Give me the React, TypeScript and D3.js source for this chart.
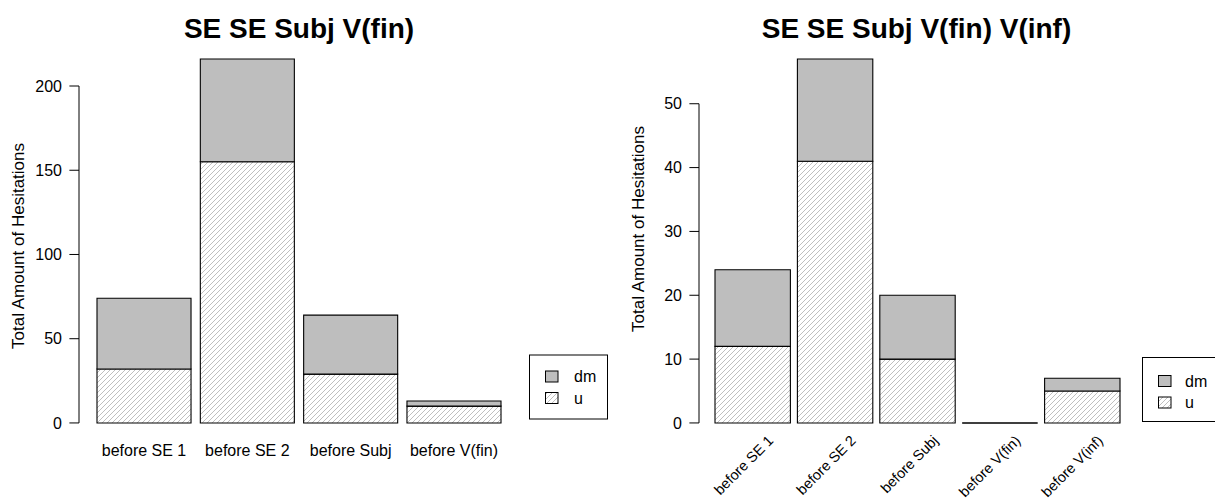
import React from "react";
import * as d3 from "d3";

// ---- data ----
const leftTitle = "SE SE Subj V(fin)";
const leftCategories = ["before SE 1", "before SE 2", "before Subj", "before V(fin)"];
const leftU = [32, 155, 29, 10];
const leftDm = [42, 61, 35, 3];
const leftTicks = [0, 50, 100, 150, 200];

const rightTitle = "SE SE Subj V(fin) V(inf)";
const rightCategories = ["before SE 1", "before SE 2", "before Subj", "before V(fin)", "before V(inf)"];
const rightU = [12, 41, 10, 0, 5];
const rightDm = [12, 16, 10, 0, 2];
const rightTicks = [0, 10, 20, 30, 40, 50];

const legendLabels = ["dm", "u"];
const yAxisTitle = "Total Amount of Hesitations";

const FONT = "'Liberation Sans', Arial, Helvetica, sans-serif";
const GRAY = "#bebebe";

type PanelCfg = {
  title: string;
  categories: string[];
  u: number[];
  dm: number[];
  ticks: number[];
  axisX: number;
  barRange: [number, number];
  pad: number;
  titleX: number;
  ytitleX: number;
  ytitleY: number;
  rotated: boolean;
  legend: { x: number; y: number; w: number; h: number; sq: number; tx: number; r1: number; r2: number };
};

const panels: PanelCfg[] = [
  {
    title: leftTitle,
    categories: leftCategories,
    u: leftU,
    dm: leftDm,
    ticks: leftTicks,
    axisX: 79,
    barRange: [97, 501],
    pad: 0.09,
    titleX: 299,
    ytitleX: 18,
    ytitleY: 246,
    rotated: false,
    legend: { x: 529.5, y: 355, w: 78, h: 64, sq: 545.5, tx: 574, r1: 376.5, r2: 398 },
  },
  {
    title: rightTitle,
    categories: rightCategories,
    u: rightU,
    dm: rightDm,
    ticks: rightTicks,
    axisX: 699,
    barRange: [715, 1120],
    pad: 0.085,
    titleX: 916.5,
    ytitleX: 638,
    ytitleY: 229,
    rotated: true,
    legend: { x: 1142.5, y: 357.5, w: 78, h: 64, sq: 1158.5, tx: 1185, r1: 381, r2: 402.5 },
  },
];

function segPath(x0: number, x1: number, y0: number, y1: number) {
  return `M${x0},${y0}H${x1}V${y1}H${x0}Z`;
}

function Panel({ cfg }: { cfg: PanelCfg }) {
  const totals = cfg.u.map((v, i) => v + cfg.dm[i]);
  const maxV = d3.max(totals) as number;
  const y = d3
    .scaleLinear()
    .domain([-0.04 * maxV, 1.04 * maxV])
    .range([437.5, 44.5]);
  const x = d3
    .scaleBand<string>()
    .domain(cfg.categories)
    .range(cfg.barRange)
    .paddingInner(cfg.pad);
  const bw = x.bandwidth();
  const tickMax = cfg.ticks[cfg.ticks.length - 1];
  const lg = cfg.legend;

  return (
    <g>
      <text
        x={cfg.titleX}
        y={38}
        textAnchor="middle"
        fontFamily={FONT}
        fontWeight="bold"
        fontSize={28}
      >
        {cfg.title}
      </text>

      {/* y axis */}
      <line x1={cfg.axisX} x2={cfg.axisX} y1={y(0)} y2={y(tickMax)} stroke="#000" strokeWidth={1} />
      {cfg.ticks.map((t) => (
        <g key={t}>
          <line x1={cfg.axisX - 9.6} x2={cfg.axisX} y1={y(t)} y2={y(t)} stroke="#000" strokeWidth={1} />
          <text
            x={cfg.axisX - 17}
            y={y(t)}
            dy="0.35em"
            textAnchor="end"
            fontFamily={FONT}
            fontSize={16}
          >
            {t}
          </text>
        </g>
      ))}
      <text
        transform={`translate(${cfg.ytitleX},${cfg.ytitleY}) rotate(-90)`}
        textAnchor="middle"
        dy="0.35em"
        fontFamily={FONT}
        fontSize={17}
      >
        {yAxisTitle}
      </text>

      {/* stacked bars: u (hatched) below, dm (gray) above */}
      {cfg.categories.map((c, i) => {
        const x0 = x(c) as number;
        const x1 = x0 + bw;
        const uTop = y(cfg.u[i]);
        const dTop = y(cfg.u[i] + cfg.dm[i]);
        return (
          <g key={c}>
            <path d={segPath(x0, x1, y(0), uTop)} fill="#fff" stroke="none" />
            <path d={segPath(x0, x1, y(0), uTop)} fill="url(#hatch)" stroke="#000" strokeWidth={1.1} />
            <path d={segPath(x0, x1, uTop, dTop)} fill={GRAY} stroke="#000" strokeWidth={1.1} />
          </g>
        );
      })}

      {/* category labels */}
      {cfg.categories.map((c) => {
        const cx = (x(c) as number) + bw / 2;
        if (cfg.rotated) {
          return (
            <text
              key={c}
              transform={`translate(${cx + 18},${438}) rotate(-45)`}
              textAnchor="end"
              dy="0.35em"
              fontFamily={FONT}
              fontSize={14.5}
            >
              {c}
            </text>
          );
        }
        return (
          <text key={c} x={cx} y={456} textAnchor="middle" fontFamily={FONT} fontSize={16}>
            {c}
          </text>
        );
      })}

      {/* legend */}
      <rect x={lg.x} y={lg.y} width={lg.w} height={lg.h} fill="#fff" stroke="#000" strokeWidth={1} />
      {legendLabels.map((lab, i) => {
        const cy = i === 0 ? lg.r1 : lg.r2;
        return (
          <g key={lab}>
            <rect x={lg.sq} y={cy - 5.5} width={12.5} height={11} fill="#fff" />
            <rect
              x={lg.sq}
              y={cy - 5.5}
              width={12.5}
              height={11}
              fill={i === 0 ? GRAY : "url(#hatch)"}
              stroke="#000"
              strokeWidth={1}
            />
            <text x={lg.tx} y={cy} dy="0.35em" fontFamily={FONT} fontSize={16}>
              {lab}
            </text>
          </g>
        );
      })}
    </g>
  );
}

export default function App() {
  const P = 5;
  return (
    <svg
      width={1215}
      height={503}
      style={{ position: "absolute", left: 0, top: 0, display: "block", background: "#fff" }}
    >
      <defs>
        <pattern id="hatch" patternUnits="userSpaceOnUse" width={P} height={P}>
          <line x1={0} y1={P} x2={P} y2={0} stroke="#b8b8b8" strokeWidth={0.9} />
          <line x1={-1} y1={1} x2={1} y2={-1} stroke="#b8b8b8" strokeWidth={0.9} />
          <line x1={P - 1} y1={P + 1} x2={P + 1} y2={P - 1} stroke="#b8b8b8" strokeWidth={0.9} />
        </pattern>
      </defs>
      <rect width={1215} height={503} fill="#fff" />
      {panels.map((p) => (
        <Panel key={p.title} cfg={p} />
      ))}
    </svg>
  );
}
